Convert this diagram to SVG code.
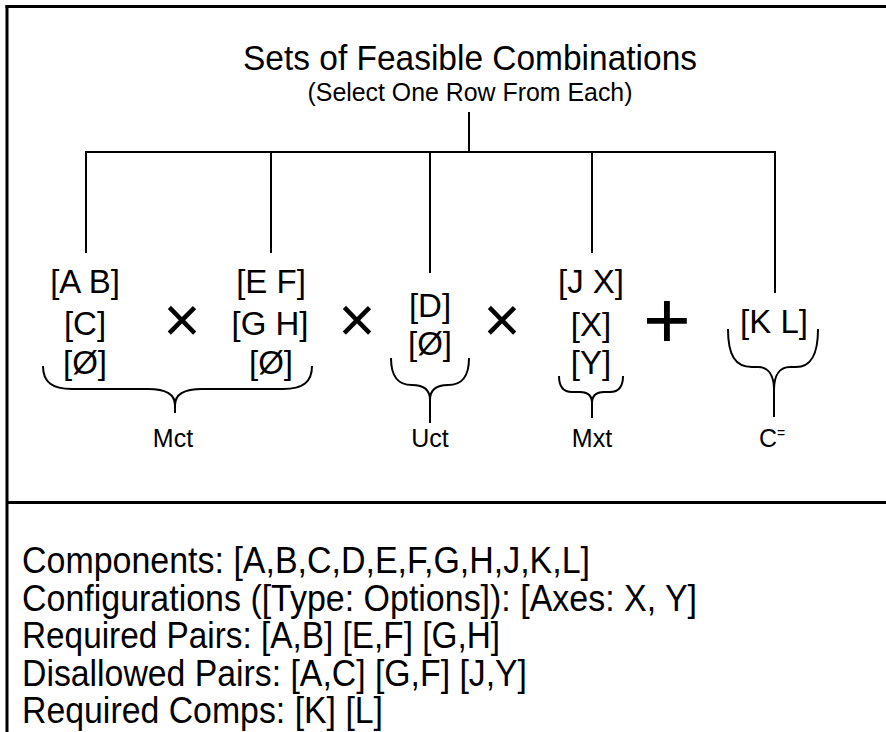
<svg xmlns="http://www.w3.org/2000/svg" width="886" height="732" viewBox="0 0 886 732">
  <style>
    .t { font-family: "Liberation Sans", Arial, sans-serif; fill: #000; }
    .row { font-size: 33px; text-anchor: middle; }
    .lbl { font-size: 25px; text-anchor: middle; }
    .op { text-anchor: middle; }
    .body { font-size: 36px; }
    .frame { stroke: #000; stroke-width: 3; fill: none; }
    .wire { stroke: #000; stroke-width: 2; fill: none; }
    .brace { stroke: #000; stroke-width: 2; fill: none; stroke-linejoin: round; }
  </style>
  <rect width="886" height="732" fill="#fff"/>

  <!-- outer frame and divider -->
  <g id="frame">
    <line class="frame" x1="5.5" y1="6.5" x2="886" y2="6.5"/>
    <line class="frame" x1="7" y1="5" x2="7" y2="732"/>
    <line class="frame" x1="7" y1="502.5" x2="886" y2="502.5"/>
  </g>

  <!-- root -->
  <g id="root">
    <text class="t" x="470" y="70" font-size="35" text-anchor="middle" textLength="454" lengthAdjust="spacingAndGlyphs">Sets of Feasible Combinations</text>
    <text class="t" x="470" y="101" font-size="26" text-anchor="middle" textLength="325" lengthAdjust="spacingAndGlyphs">(Select One Row From Each)</text>
  </g>

  <!-- tree connectors -->
  <g id="connectors">
    <line class="wire" x1="469" y1="112" x2="469" y2="152"/>
    <line class="wire" x1="85" y1="152" x2="776" y2="152"/>
    <line class="wire" x1="86" y1="152" x2="86" y2="253"/>
    <line class="wire" x1="271" y1="152" x2="271" y2="253"/>
    <line class="wire" x1="430" y1="152" x2="430" y2="273"/>
    <line class="wire" x1="592" y1="152" x2="592" y2="253"/>
    <line class="wire" x1="775" y1="152" x2="775" y2="293"/>
  </g>

  <!-- option sets -->
  <g id="set-ab">
    <text class="t row" x="85" y="293">[A B]</text>
    <text class="t row" x="85" y="335">[C]</text>
    <text class="t row" x="85" y="374">[Ø]</text>
  </g>
  <g id="set-ef">
    <text class="t row" x="271" y="293">[E F]</text>
    <text class="t row" x="270" y="335">[G H]</text>
    <text class="t row" x="271" y="374">[Ø]</text>
  </g>
  <g id="set-d">
    <text class="t row" x="430" y="317">[D]</text>
    <text class="t row" x="430" y="355">[Ø]</text>
  </g>
  <g id="set-jx">
    <text class="t row" x="591" y="293">[J X]</text>
    <text class="t row" x="591" y="336">[X]</text>
    <text class="t row" x="591" y="374">[Y]</text>
  </g>
  <g id="set-kl">
    <text class="t row" x="774" y="333">[K L]</text>
  </g>

  <!-- operators -->
  <g id="operators">
    <text class="t op" x="182" y="342" font-size="64">×</text>
    <text class="t op" x="357" y="342" font-size="64">×</text>
    <text class="t op" x="502" y="342" font-size="64">×</text>
    <text class="t op" x="667" y="348" font-size="82">+</text>
  </g>

  <!-- group braces and labels -->
  <g id="group-mct">
    <path class="brace" d="M43,366 C43,382 52,389 72,389 L148,389 C165,389 175,394 175,405 L175,413"/>
    <path class="brace" d="M312,366 C312,382 303,389 283,389 L202,389 C185,389 175,394 175,405"/>
    <text class="t lbl" x="173" y="447">Mct</text>
  </g>
  <g id="group-uct">
    <path class="brace" d="M391,358 C391,377 398,385 412,385 C424,385 430,390 430,400 L430,423"/>
    <path class="brace" d="M469,358 C469,377 462,385 448,385 C436,385 430,390 430,400"/>
    <text class="t lbl" x="430" y="447">Uct</text>
  </g>
  <g id="group-mxt">
    <path class="brace" d="M559,376 C559,387 564,392 572,392 L580,392 C588,392 592,396 592,403 L592,418"/>
    <path class="brace" d="M623,376 C623,387 618,392 610,392 L604,392 C596,392 592,396 592,403"/>
    <text class="t lbl" x="592" y="447">Mxt</text>
  </g>
  <g id="group-c">
    <path class="brace" d="M728,329 C728,355 735,367 752,367 L758,367 C768,367 774,375 774,390 L774,417"/>
    <path class="brace" d="M818,329 C818,355 811,367 796,367 L790,367 C780,367 774,375 774,390"/>
    <text class="t" x="759" y="447" font-size="25">C<tspan font-size="14" dy="-9.5">=</tspan></text>
  </g>

  <!-- constraint summary -->
  <g id="summary">
    <text class="t body" x="22" y="573" textLength="568" lengthAdjust="spacingAndGlyphs">Components: [A,B,C,D,E,F,G,H,J,K,L]</text>
    <text class="t body" x="22" y="610.5" textLength="675" lengthAdjust="spacingAndGlyphs">Configurations ([Type: Options]): [Axes: X, Y]</text>
    <text class="t body" x="22" y="648" textLength="478" lengthAdjust="spacingAndGlyphs">Required Pairs: [A,B] [E,F] [G,H]</text>
    <text class="t body" x="22" y="685.5" textLength="505" lengthAdjust="spacingAndGlyphs">Disallowed Pairs: [A,C] [G,F] [J,Y]</text>
    <text class="t body" x="22" y="723" textLength="361" lengthAdjust="spacingAndGlyphs">Required Comps: [K] [L]</text>
  </g>
</svg>
